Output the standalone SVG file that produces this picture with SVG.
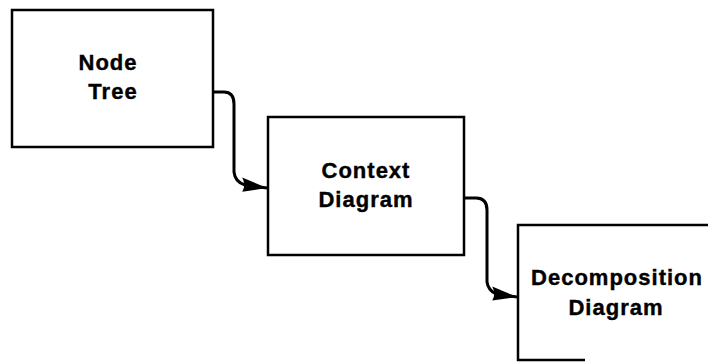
<svg xmlns="http://www.w3.org/2000/svg" width="708" height="362" viewBox="0 0 708 362">
<defs>
<style>
.box{fill:#fff;stroke:#000;stroke-width:2.5}
.lbl{font-family:"Liberation Sans",Arial,sans-serif;font-weight:bold;font-size:22px;letter-spacing:1px;fill:#000;stroke:#000;stroke-width:0.4;text-anchor:middle}
.wire{fill:none;stroke:#000;stroke-width:3}
</style>
<marker id="arr" viewBox="0 0 26 16" refX="26" refY="8" markerWidth="26" markerHeight="16" markerUnits="userSpaceOnUse" orient="auto">
<path d="M0,1 L26,8 L2,15 Q5,8 0,1 Z" fill="#000"/>
</marker>
</defs>
<rect width="708" height="362" fill="#fff"/>
<g id="node-tree">
<rect class="box" x="12" y="10" width="201" height="137"/>
<text class="lbl" x="108" y="70">Node</text>
<text class="lbl" x="113" y="99">Tree</text>
</g>
<g id="context-diagram">
<rect class="box" x="268" y="117" width="196" height="138"/>
<text class="lbl" x="366" y="178">Context</text>
<text class="lbl" x="366" y="207">Diagram</text>
</g>
<g id="decomposition-diagram">
<path class="box" d="M712,225 H518 V360 H585"/>
<text class="lbl" x="617" y="285">Decomposition</text>
<text class="lbl" x="616" y="315">Diagram</text>
</g>
<g id="connectors">
<path class="wire" marker-end="url(#arr)" d="M213,92 H224 Q234,92 234,104 V172 Q235,182 245,185 L267,188"/>
<path class="wire" marker-end="url(#arr)" d="M463,198 H476 Q487,198 487,210 V282 Q488,290 496,294 L517,297"/>
</g>
</svg>
